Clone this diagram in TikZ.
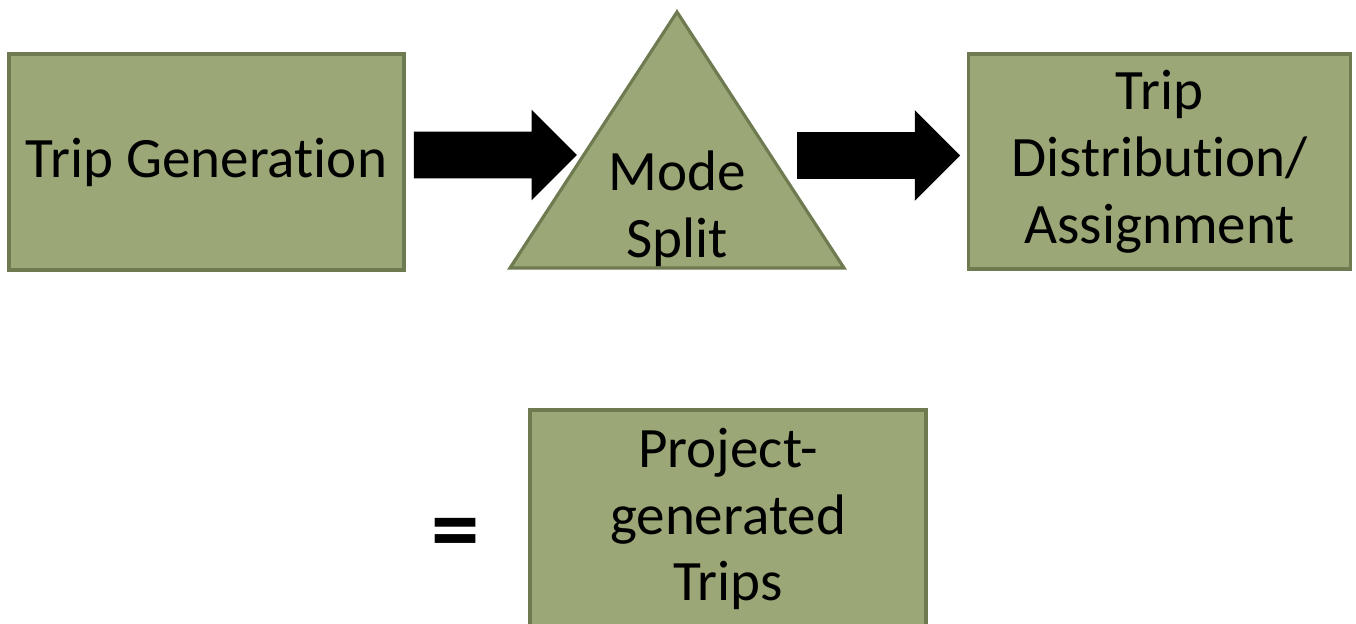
\documentclass[tikz,border=0pt]{standalone}
\usepackage{fontspec}
\setmainfont{Carlito}[Ligatures=NoCommon]
\usetikzlibrary{calc,positioning,shapes.arrows}

\definecolor{stagefill}{RGB}{155,167,119}
\definecolor{stageline}{RGB}{110,122,80}

\tikzset{
  stagecolours/.style={draw=stageline, fill=stagefill, line width=1.8pt},
  stage/.style={stagecolours, align=center, inner sep=0pt,
    font=\fontsize{32.5}{38}\selectfont},
  bigarrow/.style={single arrow, fill=black, inner xsep=0pt, inner ysep=0.46cm,
    single arrow head extend=0.44cm, minimum height=3.26cm}
}

\begin{document}
\begin{tikzpicture}

  \useasboundingbox (0,0) rectangle (27.12,12.48);

  \node [stage, minimum width=7.9cm, minimum height=4.32cm] (gen) at (4.13,9.24) {Trip Generation};

  \node [stage, minimum width=7.65cm, minimum height=4.3cm] (dist) at (23.19,9.25)
    {Trip\\ Distribution/\\ Assignment};

  \node [stage, minimum width=7.92cm, minimum height=4.36cm] (proj) at (14.56,2.10)
    {Project-\\ generated\\ Trips};

  % mode split triangle
  \coordinate (apex) at (13.54,12.24) ;
  \coordinate (baseL) at (10.2,7.12) ;
  \coordinate (baseR) at (16.88,7.12) ;

  \path [stagecolours] (apex) -- (baseR) -- (baseL) -- cycle ;

  \node [align=center, font=\fontsize{32.5}{38}\selectfont] (split) at (13.54,8.30) {Mode\\ Split};

  \node [bigarrow, right=0.16cm of gen, yshift=0.14cm] (genarrow) {} ;

  \node [bigarrow, left=0.12cm of dist, yshift=0.12cm] (distarrow) {} ;

  \node [font=\fontsize{55}{66}\selectfont\bfseries, left=0.86cm of proj, yshift=-0.42cm] (equals) {=} ;

\end{tikzpicture}
\end{document}
